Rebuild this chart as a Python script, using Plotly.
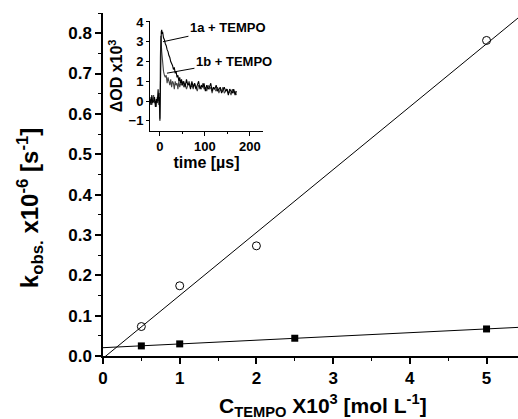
import numpy as np
import plotly.graph_objects as go

# ---- main data ----
conc_1a = [0.5, 1.0, 2.0, 5.0]
kobs_1a = [0.073, 0.174, 0.273, 0.782]
conc_1b = [0.5, 1.0, 2.5, 5.0]
kobs_1b = [0.025, 0.030, 0.044, 0.067]
x_ticks = [0, 1, 2, 3, 4, 5]
y_ticks = [0.0, 0.1, 0.2, 0.3, 0.4, 0.5, 0.6, 0.7, 0.8]

# ---- inset data (transient absorption) ----
t_inset = [-22, -20, -18, -16, -14, -12, -10, -8, -6, -4, -2,
           -1, 0, 1, 2, 3, 4, 5, 6,
           8, 10, 12, 14, 16, 18, 20, 22, 24, 26, 28, 30, 32, 34, 36, 38, 40, 42, 44, 46, 48, 50,
           53, 56, 59, 62, 65, 68, 71, 74, 77, 80, 83, 86, 89, 92, 95, 98, 101, 104, 107, 110,
           113, 116, 119, 122, 125, 128, 131, 134, 137, 140, 143, 146, 149, 152, 155, 158, 161, 164, 167, 170]
od_1a = [0.1, -0.2, 0.3, -0.1, 0.0, 0.2, -0.3, 0.1, -0.1, 0.6, -0.2,
         0.2, -1.0, 1.8, 3.0, 3.5, 3.6, 3.4, 3.5,
         3.2, 3.1, 2.9, 2.8, 2.6, 2.5, 2.3, 2.2, 2.0, 1.9, 1.8, 1.6, 1.7, 1.4, 1.5, 1.2, 1.3, 1.0, 1.2, 0.9, 1.1, 0.8,
         1.0, 0.7, 1.1, 0.8, 0.9, 0.6, 1.0, 0.7, 0.9, 0.6, 0.8, 1.0, 0.6, 0.8, 0.7, 0.9, 0.5, 0.8, 0.6, 0.7,
         0.9, 0.5, 0.7, 0.6, 0.8, 0.5, 0.6, 0.7, 0.4, 0.6, 0.7, 0.5, 0.6, 0.3, 0.6, 0.5, 0.4, 0.6, 0.3, 0.5]
od_1b = [-0.1, 0.2, -0.2, 0.1, 0.3, -0.1, 0.0, -0.3, 0.2, 0.0, 0.4,
         -0.3, -0.9, 2.2, 3.3, 2.9, 2.5, 2.1, 1.8,
         1.5, 1.3, 1.2, 1.3, 0.9, 1.2, 1.0, 0.8, 1.1, 0.7, 1.0, 0.9, 0.6, 1.0, 0.8, 0.9, 0.6, 1.0, 0.7, 0.9, 0.8, 1.0,
         0.7, 0.9, 0.6, 0.8, 1.0, 0.7, 0.8, 0.6, 0.9, 0.7, 0.5, 0.8, 0.7, 0.6, 0.9, 0.6, 0.7, 0.5, 0.8, 0.6,
         0.7, 0.4, 0.7, 0.6, 0.5, 0.7, 0.4, 0.6, 0.5, 0.7, 0.4, 0.5, 0.6, 0.4, 0.5, 0.3, 0.6, 0.4, 0.5, 0.3]
inset_xticks = [0, 100, 200]
inset_yticks = [-1, 0, 1, 2, 3, 4]

X_MAX = 5.41
FONT = "Liberation Sans"

# linear fits
fit_x = np.array([0.0, X_MAX])
p_a = np.polyfit(conc_1a, kobs_1a, 1)
p_b = np.polyfit(conc_1b, kobs_1b, 1)

fig = go.Figure()
fig.add_trace(go.Scatter(x=fit_x, y=np.polyval(p_a, fit_x), mode="lines",
                         line=dict(color="black", width=1), showlegend=False))
fig.add_trace(go.Scatter(x=fit_x, y=np.polyval(p_b, fit_x), mode="lines",
                         line=dict(color="black", width=1), showlegend=False))
fig.add_trace(go.Scatter(x=conc_1a, y=kobs_1a, mode="markers",
                         marker=dict(symbol="circle-open", size=8, color="black", line=dict(width=1)),
                         showlegend=False))
fig.add_trace(go.Scatter(x=conc_1b, y=kobs_1b, mode="markers",
                         marker=dict(symbol="square", size=7, color="black"),
                         showlegend=False))

# inset traces
fig.add_trace(go.Scatter(x=t_inset, y=od_1b, mode="lines", xaxis="x2", yaxis="y2",
                         line=dict(color="#444444", width=1.1), showlegend=False))
fig.add_trace(go.Scatter(x=t_inset, y=od_1a, mode="lines", xaxis="x2", yaxis="y2",
                         line=dict(color="black", width=1.1), showlegend=False))

bold = dict(family=FONT, color="black", weight="bold")

fig.update_layout(
    width=518, height=419,
    margin=dict(l=103, r=0, t=13, b=63),
    paper_bgcolor="white", plot_bgcolor="white",
    xaxis=dict(range=[0, X_MAX], tickvals=x_ticks, showline=True, linecolor="black", linewidth=1.5,
               ticks="outside", ticklen=6, tickwidth=1.5, tickcolor="black",
               minor=dict(dtick=0.5, ticks="outside", ticklen=3, tickwidth=1.2, tickcolor="black"),
               showgrid=False, zeroline=False, tickfont=dict(size=17, **bold)),
    yaxis=dict(range=[0, 0.85], tickvals=y_ticks, tickformat=".1f", showline=True, linecolor="black",
               linewidth=1.5, ticks="outside", ticklen=6, tickwidth=1.5, tickcolor="black",
               minor=dict(dtick=0.05, ticks="outside", ticklen=3, tickwidth=1.2, tickcolor="black"),
               showgrid=False, zeroline=False, tickfont=dict(size=17, **bold)),
    xaxis2=dict(domain=[0.1133, 0.3855], anchor="y2", range=[-22, 229], tickvals=inset_xticks,
                showline=True, linecolor="black", linewidth=1, ticks="outside", ticklen=4,
                tickcolor="black", minor=dict(dtick=50, ticks="outside", ticklen=2, tickcolor="black"),
                showgrid=False, zeroline=False, tickfont=dict(size=13, **bold),
                title=dict(text="time [µs]", font=dict(size=16, **bold), standoff=1)),
    yaxis2=dict(domain=[0.6569, 0.9767], anchor="x2", range=[-1.5, 4.05], tickvals=inset_yticks,
                showline=True, linecolor="black", linewidth=1, ticks="outside", ticklen=3,
                tickcolor="black", showgrid=False, zeroline=False, tickfont=dict(size=13, **bold),
                title=dict(text="ΔOD x10<sup>3</sup>", font=dict(size=16, **bold), standoff=1)),
    annotations=[
        dict(text="k<sub>obs.</sub> x10<sup>-6</sup> [s<sup>-1</sup>]", xref="paper", yref="paper",
             x=-0.176, y=0.431, textangle=-90, showarrow=False, font=dict(size=24, **bold),
             xanchor="center", yanchor="middle"),
        dict(text="C<sub>TEMPO</sub> X10<sup>3</sup> [mol L<sup>-1</sup>]", xref="paper", yref="paper",
             x=0.530, y=-0.143, showarrow=False, font=dict(size=21, **bold),
             xanchor="center", yanchor="middle"),
        dict(text="1a + TEMPO", xref="x2", yref="y2", x=6.7, y=3.0, ax=65, ay=-14,
             showarrow=True, arrowhead=0, arrowwidth=1, arrowcolor="black",
             font=dict(size=13, **bold)),
        dict(text="1b + TEMPO", xref="x2", yref="y2", x=15.6, y=1.41, ax=67, ay=-12,
             showarrow=True, arrowhead=0, arrowwidth=1, arrowcolor="black",
             font=dict(size=13, **bold)),
    ],
)

fig.write_html("out.html")
